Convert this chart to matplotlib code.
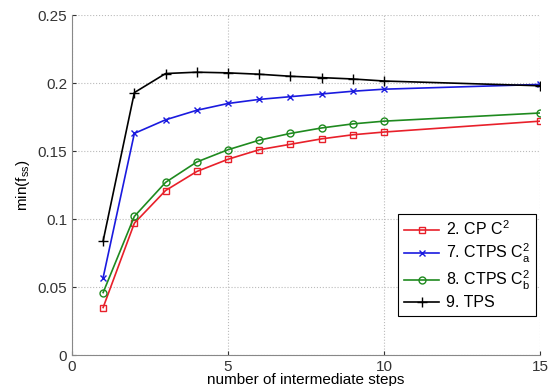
import numpy as np
import matplotlib
matplotlib.use("Agg")
import matplotlib.pyplot as plt

plt.rcParams['font.family'] = ['Liberation Sans', 'DejaVu Sans']
plt.rcParams['mathtext.fontset'] = 'custom'
plt.rcParams['mathtext.rm'] = 'Liberation Sans'
plt.rcParams['mathtext.it'] = 'Liberation Sans'

steps = [1, 2, 3, 4, 5, 6, 7, 8, 9, 10, 15]
cp = [0.035, 0.097, 0.121, 0.135, 0.144, 0.151, 0.155, 0.159, 0.162, 0.164, 0.172]
ctps_a = [0.057, 0.163, 0.173, 0.180, 0.185, 0.188, 0.190, 0.192, 0.194, 0.1955, 0.199]
ctps_b = [0.046, 0.102, 0.127, 0.142, 0.151, 0.158, 0.163, 0.167, 0.170, 0.172, 0.178]
tps = [0.084, 0.193, 0.207, 0.208, 0.2075, 0.2065, 0.205, 0.204, 0.203, 0.2015, 0.198]

fig = plt.figure(figsize=(5.49, 3.86), dpi=100)
ax = fig.add_axes([0.131, 0.080, 0.853, 0.881])

ax.plot(steps, cp, '-s', color='#e8202a', mfc='none', ms=4.5, lw=1.2, label='2. CP C$^2$')
ax.plot(steps, ctps_a, '-x', color='#1a1adf', ms=5, lw=1.2, label='7. CTPS C$_a^2$')
ax.plot(steps, ctps_b, '-o', color='#1f8a1f', mfc='none', ms=5, lw=1.2, label='8. CTPS C$_b^2$')
ax.plot(steps, tps, '-+', color='black', ms=7, lw=1.2, label='9. TPS')

ax.set_xlim(0, 15)
ax.set_ylim(0, 0.25)
ax.set_xticks([0, 5, 10, 15])
ax.set_yticks([0, 0.05, 0.1, 0.15, 0.2, 0.25])
ax.set_yticklabels(['0', '0.05', '0.1', '0.15', '0.2', '0.25'])
ax.grid(True, linestyle=':', color='#bbbbbb', lw=0.8)
ax.tick_params(direction='in', labelsize=11, colors='#333333', length=3)
for s in ['top', 'right']:
    ax.spines[s].set_visible(False)
for s in ['left', 'bottom']:
    ax.spines[s].set_color('#888888')

ax.set_xlabel('number of intermediate steps', fontsize=11, labelpad=-1)
ax.set_ylabel('min(f$_{ss}$)', fontsize=11)

leg = ax.legend(loc='lower right', bbox_to_anchor=(0.991, 0.115), fontsize=11.5,
                fancybox=False, edgecolor='black', framealpha=1, handlelength=2.2,
                labelspacing=0.22, borderpad=0.35, borderaxespad=0, handletextpad=0.4)
leg.get_frame().set_linewidth(0.8)

plt.savefig("out.png")
